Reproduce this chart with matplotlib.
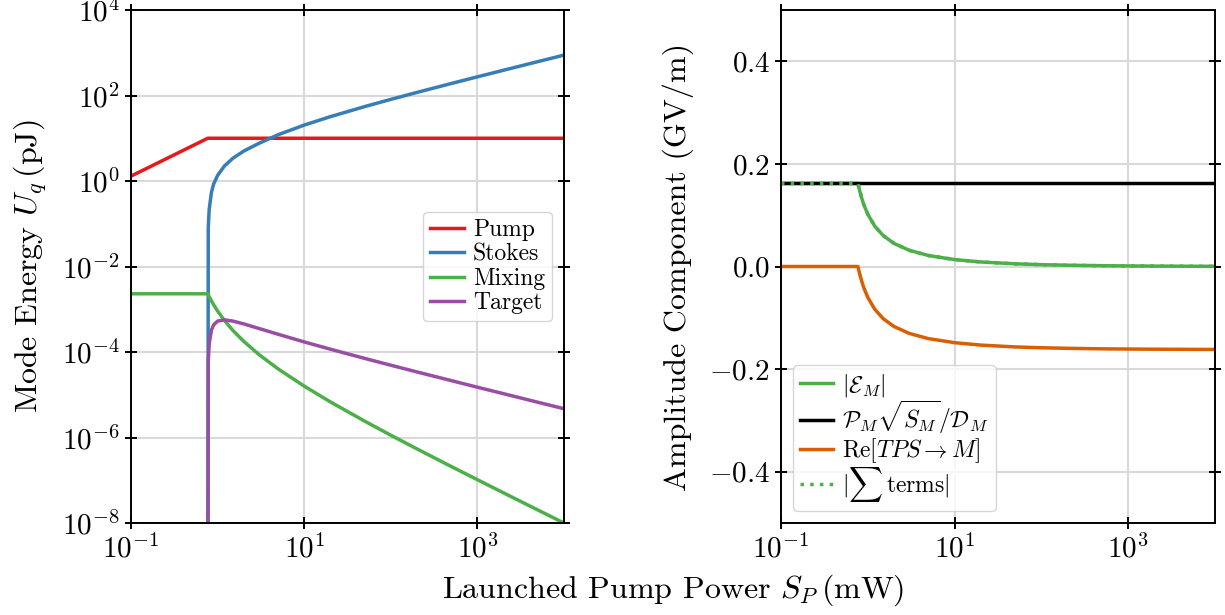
import numpy as np
import matplotlib
matplotlib.use('Agg')
import matplotlib.pyplot as plt

plt.rcParams['font.family'] = 'serif'
plt.rcParams['font.serif'] = ['cmr10']
plt.rcParams['mathtext.fontset'] = 'cm'
plt.rcParams['axes.formatter.use_mathtext'] = True
plt.rcParams['axes.unicode_minus'] = True

# launched pump power (mW); threshold at ~0.77 mW
power_mw = [0.1, 0.77, 0.78, 0.8, 0.85, 0.9, 1.0, 1.2, 1.5, 2, 3, 5, 10, 20,
            50, 100, 200, 500, 1000, 2000, 5000, 10000]

# left panel: mode energies (pJ)
pump_pj = [1.3, 10, 10, 10, 10, 10, 10, 10, 10, 10, 10, 10, 10, 10,
           10, 10, 10, 10, 10, 10, 10, 10]
stokes_pj = [np.nan, 1e-12, 0.08, 0.22, 0.55, 0.85, 1.35, 2.25, 3.4, 5.0, 7.6,
             12.08, 20.3, 31.95, 55.06, 81.09, 117.9, 190.96, 273.3, 389.7,
             620.7, 881.1]
mixing_pj = [2.3e-3, 2.3e-3, 2.18e-3, 1.966e-3, 1.559e-3, 1.273e-3, 9.08e-4,
             5.45e-4, 3.20e-4, 1.78e-4, 8.74e-5, 4.02e-5, 1.59e-5, 6.82e-6,
             2.41e-6, 1.13e-6, 5.43e-7, 2.09e-7, 1.03e-7, 5.08e-8, 2.01e-8,
             9.99e-9]
target_pj = [np.nan, 1e-12, 5.83e-5, 1.577e-4, 3.29e-4, 4.31e-4, 5.29e-4,
             5.65e-4, 5.29e-4, 4.55e-4, 3.55e-4, 2.60e-4, 1.72e-4, 1.165e-4,
             7.08e-5, 4.91e-5, 3.42e-5, 2.14e-5, 1.50e-5, 1.06e-5, 6.67e-6,
             4.71e-6]

# right panel: amplitude components (GV/m)
field_gv = [0.162, 0.162, 0.1577, 0.1498, 0.1334, 0.1205, 0.1018, 0.0789,
            0.0605, 0.0451, 0.0316, 0.0214, 0.01346, 0.00882, 0.00524,
            0.00359, 0.00249, 0.00155, 0.00108, 0.00076, 0.00048, 0.00034]
drive_gv = [0.162] * len(power_mw)
tps_gv = [0, 0, -0.0043, -0.0122, -0.0286, -0.0415, -0.0602, -0.0831,
          -0.1015, -0.1169, -0.1304, -0.1406, -0.1485, -0.1532, -0.1568,
          -0.1584, -0.1595, -0.1605, -0.1609, -0.1612, -0.1615, -0.1617]
total_gv = np.abs(np.array(drive_gv) + np.array(tps_gv))

fig = plt.figure(figsize=(12.25, 6.15), dpi=100)
ax1 = fig.add_axes([131/1225, 92/615, 433/1225, 513/615])
ax2 = fig.add_axes([781/1225, 92/615, 434/1225, 513/615])

lw = 2.5
leg_kw = dict(fontsize=17, handlelength=1.4, handletextpad=0.4,
              borderpad=0.3, borderaxespad=0.5)

ax1.plot(power_mw, pump_pj, color='#e41a1c', lw=lw, label='Pump')
ax1.plot(power_mw, stokes_pj, color='#377eb8', lw=lw, label='Stokes')
ax1.plot(power_mw, mixing_pj, color='#4daf4a', lw=lw, label='Mixing')
ax1.plot(power_mw, target_pj, color='#984ea3', lw=lw, label='Target')
ax1.set_xscale('log')
ax1.set_yscale('log')
ax1.set_xlim(0.1, 1e4)
ax1.set_ylim(1e-8, 1e4)
ax1.set_yticks([1e-8, 1e-6, 1e-4, 1e-2, 1e0, 1e2, 1e4])
ax1.set_ylabel(r'Mode Energy $U_q\,$(pJ)', fontsize=23)
ax1.yaxis.set_label_coords(-0.19, 0.5)
ax1.legend(loc='center right', labelspacing=0.1, **leg_kw)

ax2.plot(power_mw, field_gv, color='#4daf4a', lw=lw, label=r'$|\mathcal{E}_M|$')
ax2.plot(power_mw, drive_gv, color='black', lw=lw,
         label=r'$\mathcal{P}_M\sqrt{S_M}/\mathcal{D}_M$')
ax2.plot(power_mw, tps_gv, color='#d95f02', lw=lw,
         label=r'$\mathrm{Re}[TPS\rightarrow M]$')
ax2.plot(power_mw, total_gv, color='#4daf4a', lw=lw, ls=(0, (1, 1.8)),
         label=r'$|\sum\,\mathrm{terms}|$')
ax2.set_xscale('log')
ax2.set_xlim(0.1, 1e4)
ax2.set_ylim(-0.5, 0.5)
ax2.set_yticks([-0.4, -0.2, 0.0, 0.2, 0.4])
ax2.set_ylabel('Amplitude Component (GV/m)', fontsize=23)
ax2.yaxis.set_label_coords(-0.2, 0.5)
ax2.legend(loc='lower left', labelspacing=0.0, **leg_kw)

for ax in (ax1, ax2):
    ax.set_xticks([0.1, 10, 1000])
    ax.minorticks_off()
    ax.grid(True, color='#d9d9d9', lw=1.5)
    ax.set_axisbelow(True)
    ax.tick_params(direction='inout', length=9, width=1.4, labelsize=21,
                   top=True, right=True)
    for s in ax.spines.values():
        s.set_linewidth(1.4)

fig.text((131 + 1215) / 2 / 1225, 17/615, r'Launched Pump Power $S_P\,$(mW)',
         ha='center', va='baseline', fontsize=23)

fig.savefig('out.png', dpi=100)
